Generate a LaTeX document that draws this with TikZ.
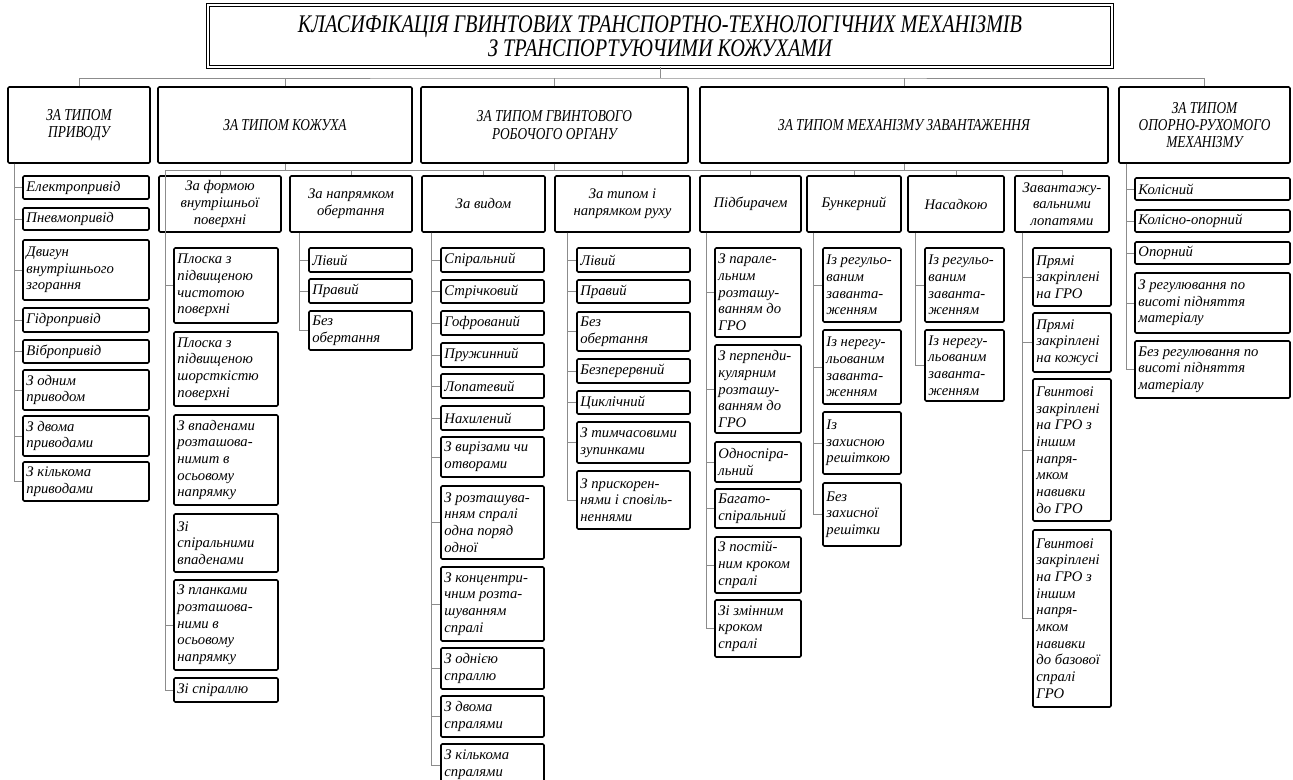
\documentclass[tikz,border=0pt]{standalone}
\usepackage{fontspec}
\setmainfont{Liberation Serif}
\newfontfamily\lfont{Liberation Serif}
\newfontfamily\cfont[FakeStretch=0.8]{Liberation Serif}
\usetikzlibrary{calc}
\tikzset{
  bx/.style={draw=black, line width=1.2pt, rounded corners=1pt, fill=white, inner sep=0pt},
  ttl/.style={draw=black, double, double distance=1.2pt, line width=0.6pt, fill=white, inner sep=0pt, align=center, font=\cfont\itshape\fontsize{19}{18}\selectfont},
  hdr/.style={bx, align=center, font=\cfont\itshape\fontsize{12.5}{13}\selectfont},
  sub/.style={bx, align=center, font=\lfont\itshape\fontsize{11}{12.5}\selectfont},
  leaf/.style={bx},
  lt/.style={anchor=west, align=left, inner xsep=3pt, inner ysep=0pt, font=\lfont\itshape\fontsize{11}{12.5}\selectfont},
  conn/.style={draw=black!45, line width=0.5pt},
}
\newcommand\bxnode[7]{%
  \pgfmathsetmacro\myBW{(#5-#3)*0.75}\pgfmathsetmacro\myBH{(#6-#4)*0.75}%
  \node[#1, minimum width=\myBW pt, minimum height=\myBH pt] (#2) at ({(#3+#5)/2},{(#4+#6)/2}) {#7};}
\newcommand\lfnode[6]{%
  \bxnode{leaf}{#1}{#2}{#3}{#4}{#5}{}%
  \node[lt] (#1t) at (#1.west) {#6};}
\begin{document}
\begin{tikzpicture}[x=0.75pt,y=-0.75pt]
\useasboundingbox (0,0) rectangle (1293,780);
% title
\bxnode{ttl}{title}{208}{5}{1112}{67}{КЛАСИФІКАЦІЯ ГВИНТОВИХ ТРАНСПОРТНО-ТЕХНОЛОГІЧНИХ МЕХАНІЗМІВ\\З ТРАНСПОРТУЮЧИМИ КОЖУХАМИ}
% top level
\bxnode{hdr}{h1}{8}{87}{150}{163}{ЗА ТИПОМ\\ПРИВОДУ}
\bxnode{hdr}{h2}{158}{87}{412}{163}{ЗА ТИПОМ КОЖУХА}
\bxnode{hdr}{h3}{421}{87}{688}{163}{ЗА ТИПОМ ГВИНТОВОГО\\РОБОЧОГО ОРГАНУ}
\bxnode{hdr}{h4}{700}{87}{1108}{163}{ЗА ТИПОМ МЕХАНІЗМУ ЗАВАНТАЖЕННЯ}
\bxnode{hdr}{h5}{1119}{87}{1290}{163}{ЗА ТИПОМ\\ОПОРНО-РУХОМОГО\\МЕХАНІЗМУ}
% second level
\bxnode{sub}{s21}{159}{176}{281}{232}{За формою\\внутрішньої\\поверхні}
\bxnode{sub}{s22}{290}{176}{412}{232}{За напрямком\\обертання}
\bxnode{sub}{s31}{422}{176}{545}{232}{За видом}
\bxnode{sub}{s32}{555}{176}{690}{232}{За типом і\\напрямком руху}
\bxnode{sub}{s41}{700}{176}{801}{232}{Підбирачем}
\bxnode{sub}{s42}{807}{176}{901}{232}{Бункерний}
\bxnode{sub}{s43}{908}{176}{1004}{232}{Насадкою}
\bxnode{sub}{s44}{1015}{176}{1109}{232}{Завантажу-\\вальними\\лопатями}
% column 1
\lfnode{a1}{23}{176}{149}{199}{Електропривід}
\lfnode{a2}{23}{208}{149}{230}{Пневмопривід}
\lfnode{a3}{23}{240}{149}{300}{Двигун\\внутрішнього\\згорання}
\lfnode{a4}{23}{308}{149}{332}{Гідропривід}
\lfnode{a5}{23}{340}{149}{363}{Вібропривід}
\lfnode{a6}{23}{370}{149}{410}{З одним\\приводом}
\lfnode{a7}{23}{416}{149}{456}{З двома\\приводами}
\lfnode{a8}{23}{462}{149}{501}{З кількома\\приводами}
% column 2
\lfnode{b1}{174}{248}{278}{323}{Плоска з\\підвищеною\\чистотою\\поверхні}
\lfnode{b2}{174}{332}{278}{406}{Плоска з\\підвищеною\\шорсткістю\\поверхні}
\lfnode{b3}{174}{415}{278}{505}{З впаденами\\розташова-\\нимит в\\осьовому\\напрямку}
\lfnode{b4}{174}{514}{278}{572}{Зі\\спіральними\\впаденами}
\lfnode{b5}{174}{580}{278}{670}{З планками\\розташова-\\ними в\\осьовому\\напрямку}
\lfnode{b6}{174}{678}{278}{702}{Зі спіраллю}
\lfnode{c1}{309}{248}{412}{272}{Лівий}
\lfnode{c2}{309}{279}{412}{303}{Правий}
\lfnode{c3}{309}{311}{412}{350}{Без\\обертання}
% column 3
\lfnode{d1}{441}{248}{544}{272}{Спіральний}
\lfnode{d2}{441}{280}{544}{303}{Стрічковий}
\lfnode{d3}{441}{311}{544}{335}{Гофрований}
\lfnode{d4}{441}{343}{544}{367}{Пружинний}
\lfnode{d5}{441}{374}{544}{398}{Лопатевий}
\lfnode{d6}{441}{406}{544}{430}{Нахилений}
\lfnode{d7}{441}{437}{544}{477}{З вирізами чи\\отворами}
\lfnode{d8}{441}{486}{544}{559}{З розташува-\\нням спралі\\одна поряд\\одної}
\lfnode{d9}{441}{567}{544}{641}{З концентри-\\чним розта-\\шуванням\\спралі}
\lfnode{d10}{441}{648}{544}{689}{З однією\\спраллю}
\lfnode{d11}{441}{696}{544}{737}{З двома\\спралями}
\lfnode{d12}{441}{744}{544}{786}{З кількома\\спралями}
\lfnode{e1}{577}{248}{690}{272}{Лівий}
\lfnode{e2}{577}{280}{690}{303}{Правий}
\lfnode{e3}{577}{312}{690}{351}{Без\\обертання}
\lfnode{e4}{577}{359}{690}{383}{Безперервний}
\lfnode{e5}{577}{391}{690}{414}{Циклічний}
\lfnode{e6}{577}{422}{690}{463}{З тимчасовими\\зупинками}
\lfnode{e7}{577}{471}{690}{529}{З прискорен-\\нями і сповіль-\\неннями}
% column 4
\lfnode{f1}{715}{248}{801}{337}{З парале-\\льним\\розташу-\\ванням до\\ГРО}
\lfnode{f2}{715}{345}{801}{433}{З перпенди-\\кулярним\\розташу-\\ванням до\\ГРО}
\lfnode{f3}{715}{442}{801}{482}{Односпіра-\\льний}
\lfnode{f4}{715}{489}{801}{528}{Багато-\\спіральний}
\lfnode{f5}{715}{537}{801}{593}{З постій-\\ним кроком\\спралі}
\lfnode{f6}{715}{600}{801}{657}{Зі змінним\\кроком\\спралі}
\lfnode{g1}{823}{248}{901}{322}{Із регульо-\\ваним\\заванта-\\женням}
\lfnode{g2}{823}{330}{901}{404}{Із нерегу-\\льованим\\заванта-\\женням}
\lfnode{g3}{823}{412}{901}{474}{Із\\захисною\\решіткою}
\lfnode{g4}{823}{483}{901}{546}{Без\\захисної\\решітки}
\lfnode{k1}{925}{248}{1004}{322}{Із регульо-\\ваним\\заванта-\\женням}
\lfnode{k2}{925}{330}{1004}{401}{Із нерегу-\\льованим\\заванта-\\женням}
\lfnode{m1}{1033}{248}{1111}{306}{Прямі\\закріплені\\на ГРО}
\lfnode{m2}{1033}{313}{1111}{372}{Прямі\\закріплені\\на кожусі}
\lfnode{m3}{1033}{379}{1111}{521}{Гвинтові\\закріплені\\на ГРО з\\іншим\\напря-\\мком\\навивки\\до ГРО}
\lfnode{m4}{1033}{530}{1111}{707}{Гвинтові\\закріплені\\на ГРО з\\іншим\\напря-\\мком\\навивки\\до базової\\спралі\\ГРО}
% column 5
\lfnode{n1}{1135}{178}{1290}{200}{Колісний}
\lfnode{n2}{1135}{210}{1290}{232}{Колісно-опорний}
\lfnode{n3}{1135}{242}{1290}{264}{Опорний}
\lfnode{n4}{1135}{273}{1290}{333}{З регулювання по\\висоті підняття\\матеріалу}
\lfnode{n5}{1135}{341}{1290}{398}{Без регулювання по\\висоті підняття\\матеріалу}
% connectors: top bus
\coordinate (bus) at (655,78);
\draw[conn] (title.south) -- (title.south |- bus);
\draw[conn] (h1.north) |- (bus) -| (h5.north);
\foreach \n in {h2,h3,h4} \draw[conn] (\n.north) -- (\n.north |- bus);
% second-level buses
\coordinate (b2) at ($(h2.south)+(0,7)$);
\draw[conn] (h2.south) -- (b2);
\draw[conn] (s21.north) |- (b2) -| (s22.north);
\coordinate (b3) at ($(h3.south)+(0,7)$);
\draw[conn] (h3.south) -- (b3);
\draw[conn] (s31.north) |- (b3) -| (s32.north);
\coordinate (b4) at ($(h4.south)+(0,7)$);
\draw[conn] (h4.south) -- (b4);
\draw[conn] (s41.north) |- (b4) -| (s44.north);
\foreach \n in {s42,s43} \draw[conn] (\n.north) -- (\n.north |- b4);
% leaf trunks
\coordinate (v1) at ($(h1.south west)+(7,0)$);
\foreach \c in {a1,a2,a3,a4,a5,a6,a7,a8} \draw[conn] (v1) |- (\c.west);
\coordinate (v21) at ($(s21.south west)+(7,0)$);
\foreach \c in {b1,b2,b3,b4,b5,b6} \draw[conn] (v21) |- (\c.west);
\coordinate (v22) at ($(s22.south west)+(10,0)$);
\foreach \c in {c1,c2,c3} \draw[conn] (v22) |- (\c.west);
\coordinate (v31) at ($(s31.south west)+(10,0)$);
\foreach \c in {d1,d2,d3,d4,d5,d6,d7,d8,d9,d10,d11,d12} \draw[conn] (v31) |- (\c.west);
\coordinate (v32) at ($(s32.south west)+(13,0)$);
\foreach \c in {e1,e2,e3,e4,e5,e6,e7} \draw[conn] (v32) |- (\c.west);
\coordinate (v41) at ($(s41.south west)+(7,0)$);
\foreach \c in {f1,f2,f3,f4,f5,f6} \draw[conn] (v41) |- (\c.west);
\coordinate (v42) at ($(s42.south west)+(7,0)$);
\foreach \c in {g1,g2,g3,g4} \draw[conn] (v42) |- (\c.west);
\coordinate (v43) at ($(s43.south west)+(8,0)$);
\foreach \c in {k1,k2} \draw[conn] (v43) |- (\c.west);
\coordinate (v44) at ($(s44.south west)+(8,0)$);
\foreach \c in {m1,m2,m3,m4} \draw[conn] (v44) |- (\c.west);
\coordinate (v5) at ($(h5.south west)+(8,0)$);
\foreach \c in {n1,n2,n3,n4,n5} \draw[conn] (v5) |- (\c.west);
\end{tikzpicture}
\end{document}
